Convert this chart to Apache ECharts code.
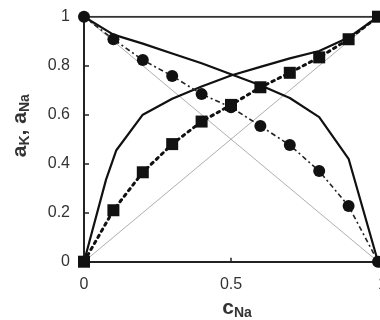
<!DOCTYPE html>
<html>
<head>
<meta charset="utf-8">
<script src="https://cdn.jsdelivr.net/npm/echarts@6/dist/echarts.min.js"></script>
<style>html,body{margin:0;padding:0;background:#fff;}#c{width:380px;height:320px;}</style>
</head>
<body>
<div id="c"></div>
<script>
// experimental points
var cExp = [0, 0.1, 0.2, 0.3, 0.4, 0.5, 0.6, 0.7, 0.8, 0.9, 1];
var aNaExp = [0, 0.21, 0.365, 0.48, 0.572, 0.64, 0.712, 0.771, 0.834, 0.908, 1];
var aKExp = [1, 0.908, 0.823, 0.758, 0.684, 0.63, 0.554, 0.476, 0.37, 0.227, 0];
// solid model curves
var cSolidK = [0, 0.1, 0.2, 0.3, 0.4, 0.5, 0.6, 0.7, 0.8, 0.9, 1];
var aKSolid = [1, 0.927, 0.89, 0.85, 0.81, 0.765, 0.72, 0.668, 0.59, 0.42, 0];
var cSolidNa = [0, 0.075, 0.11, 0.2, 0.3, 0.4, 0.5, 0.6, 0.7, 0.8, 0.9, 1];
var aNaSolid = [0, 0.335, 0.455, 0.6, 0.665, 0.715, 0.76, 0.795, 0.83, 0.86, 0.915, 1];
// ideal lines
var cIdeal = [0, 1];
var aIdealNa = [0, 1];
var aIdealK = [1, 0];
var topLineY = [1, 1];
var xTicks = [0, 0.5, 1];
var yTicks = [0, 0.2, 0.4, 0.6, 0.8, 1];

function pairs(xs, ys) { return xs.map(function (x, i) { return [x, ys[i]]; }); }

var chart = echarts.init(document.getElementById('c'));
var font = 'Liberation Sans, Arial, sans-serif';
var richStyle = {
  a: { fontSize: 21, fontWeight: 'bold', color: '#333', fontFamily: font, lineHeight: 24 },
  s: { fontSize: 14, fontWeight: 'bold', color: '#333', fontFamily: font, lineHeight: 13, verticalAlign: 'bottom' }
};
chart.setOption({
  animation: false,
  backgroundColor: '#fff',
  grid: { left: 84, right: 2, top: 16.7, bottom: 58.3, containLabel: false, outerBoundsMode: 'none' },
  xAxis: {
    type: 'value', min: xTicks[0], max: xTicks[xTicks.length - 1], interval: 0.5,
    axisLine: { lineStyle: { color: '#222', width: 2 } },
    axisTick: { inside: true, length: 4, lineStyle: { color: '#222', width: 1.5 } },
    axisLabel: { color: '#333', fontSize: 16, fontFamily: font, margin: 15, hideOverlap: false, alignMaxLabel: 'left' },
    splitLine: { show: false },
    name: '{a|c}{s|Na}', nameLocation: 'middle', nameGap: 33,
    nameTextStyle: { padding: [0, 0, 0, 12], rich: richStyle }
  },
  yAxis: {
    type: 'value', min: yTicks[0], max: yTicks[yTicks.length - 1], interval: 0.2,
    axisLine: { show: true, lineStyle: { color: '#222', width: 2 } },
    axisTick: { show: true, inside: true, length: 5, lineStyle: { color: '#222', width: 1.5 } },
    axisLabel: { color: '#333', fontSize: 16, fontFamily: font, margin: 14 },
    splitLine: { show: false },
    name: '{a|a}{s|K}{a|, a}{s|Na}', nameLocation: 'middle', nameGap: 52,
    nameTextStyle: { padding: [0, 0, 0, 27], rich: richStyle }
  },
  series: [
    { type: 'line', data: pairs(cIdeal, aIdealNa), symbol: 'none', lineStyle: { color: '#999', width: 0.8 }, silent: true },
    { type: 'line', data: pairs(cIdeal, aIdealK), symbol: 'none', lineStyle: { color: '#999', width: 0.8 }, silent: true },
    { type: 'line', data: pairs(cIdeal, topLineY), symbol: 'none', lineStyle: { color: '#333', width: 2 }, silent: true },
    { type: 'line', data: pairs(cSolidK, aKSolid), symbol: 'none', lineStyle: { color: '#111', width: 2.2 } },
    { type: 'line', data: pairs(cSolidNa, aNaSolid), symbol: 'none', lineStyle: { color: '#111', width: 2.2 } },
    { type: 'line', data: pairs(cExp, aKExp), symbol: 'circle', symbolSize: 12, clip: false,
      itemStyle: { color: '#111' }, lineStyle: { color: '#222', width: 1.6, type: [5, 3, 2, 3] } },
    { type: 'line', data: pairs(cExp, aNaExp), symbol: 'rect', symbolSize: 12, clip: false,
      itemStyle: { color: '#111' }, lineStyle: { color: '#111', width: 3, type: [2.5, 4.5], cap: 'round' } }
  ]
});
</script>
</body>
</html>
